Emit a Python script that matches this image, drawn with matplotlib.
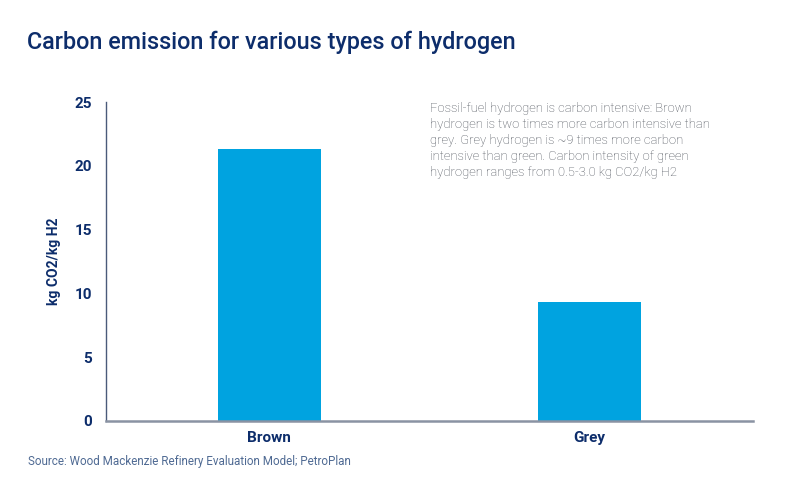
import matplotlib
matplotlib.use("Agg")
import matplotlib.pyplot as plt

categories = ["Brown", "Grey"]
values = [21.35, 9.35]
yticks = [0, 5, 10, 15, 20, 25]

title = "Carbon emission for various types of hydrogen"
ylabel = "kg CO2/kg H2"
source = "Source: Wood Mackenzie Refinery Evaluation Model; PetroPlan"
note = ("Fossil-fuel hydrogen is carbon intensive: Brown\n"
        "hydrogen is two times more carbon intensive than\n"
        "grey. Grey hydrogen is ~9 times more carbon\n"
        "intensive than green. Carbon intensity of green\n"
        "hydrogen ranges from 0.5-3.0 kg CO2/kg H2")

navy = "#0d2d6b"
bar_color = "#00a3e0"

plt.rcParams['font.family'] = ['Roboto', 'DejaVu Sans']

fig = plt.figure(figsize=(8, 4.8), dpi=100)
ax = fig.add_axes([0.1325, 0.123, 0.8085, 0.6645])

x = list(range(len(categories)))
ax.bar(x, values, width=0.32, color=bar_color, zorder=2)
ax.set_xlim(-0.51, 1.51)
ax.set_ylim(0, 25)
ax.set_yticks(yticks)
ax.set_yticklabels([str(t) for t in yticks], fontsize=11, color=navy, fontweight='bold')
ax.set_xticks(x)
ax.set_xticklabels(categories, fontsize=11, color=navy, fontweight='bold')
ax.tick_params(axis='y', length=0, pad=10)
ax.tick_params(axis='x', length=0, pad=7)
ax.set_ylabel(ylabel, fontsize=10, color=navy, fontweight='bold', labelpad=10)

for s in ['top', 'right']:
    ax.spines[s].set_visible(False)
ax.spines['left'].set_color('#4a5a7a')
ax.spines['left'].set_linewidth(1.0)
ax.spines['bottom'].set_color('#8a93a3')
ax.spines['bottom'].set_linewidth(1.8)

fig.text(27 / 800, 1 - 42 / 480, title, fontsize=16.8, color=navy, fontweight='medium',
         va='center', ha='left')
fig.text(430 / 800, 1 - 102 / 480, note, fontsize=9.4, color='#4a4f58', va='top',
         ha='left', linespacing=1.3, fontweight='light')
fig.text(28 / 800, 1 - 462 / 480, source, fontsize=8.4, color='#4f6a93', va='center',
         ha='left', fontweight='normal')

fig.savefig("out.png", dpi=100)
